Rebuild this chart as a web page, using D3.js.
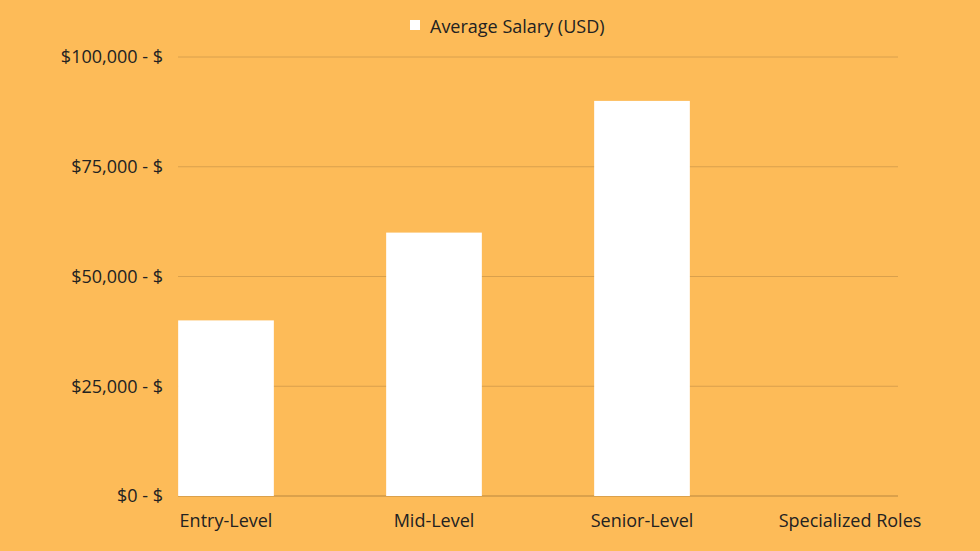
<!DOCTYPE html>
<html>
<head>
<meta charset="utf-8">
<script src="https://cdn.jsdelivr.net/npm/d3@7"></script>
<style>
  body { margin: 0; background: #fdbb58; }
  text { font-family: "Open Sans", sans-serif; }
</style>
</head>
<body>
<div id="chart"></div>
<script>
const WIDTH = 980;
const HEIGHT = 551;

const categories = ["Entry-Level", "Mid-Level", "Senior-Level", "Specialized Roles"];
const salaries = [40000, 60000, 90000, null];
const yTicks = [0, 25000, 50000, 75000, 100000];
const seriesName = "Average Salary (USD)";

let svg = d3.select("#chart")
  .append("svg")
    .attr("width", WIDTH)
    .attr("height", HEIGHT);

svg.append("rect")
  .attr("width", WIDTH)
  .attr("height", HEIGHT)
  .attr("fill", "#fdbb58");

// scales
let x = d3.scaleBand()
  .domain(categories)
  .range([122, 954])
  .paddingInner(0.54)
  .paddingOuter(0.27);

let y = d3.scaleLinear()
  .domain([0, 100000])
  .range([496, 57]);

// grid lines
svg.append("g")
  .selectAll("line")
  .data(yTicks)
  .join("line")
    .attr("x1", 178)
    .attr("x2", 898)
    .attr("y1", d => y(d))
    .attr("y2", d => y(d))
    .attr("stroke", d => d === 0 ? "#b9873f" : "#d9a04c")
    .attr("stroke-width", 1);

// y labels
svg.append("g")
  .selectAll("text")
  .data(yTicks)
  .join("text")
    .attr("x", 163)
    .attr("y", d => y(d))
    .attr("dy", "0.35em")
    .attr("text-anchor", "end")
    .attr("font-size", 18)
    .attr("fill", "#222")
    .text(d => "$" + d3.format(",")(d) + " - $");

// bars
svg.append("g")
  .selectAll("rect")
  .data(categories.map((c, i) => ({c: c, v: salaries[i]})).filter(d => d.v != null))
  .join("rect")
    .attr("x", d => x(d.c))
    .attr("width", x.bandwidth())
    .attr("y", d => y(d.v))
    .attr("height", d => y(0) - y(d.v))
    .attr("fill", "#ffffff");

// x labels
svg.append("g")
  .selectAll("text")
  .data(categories)
  .join("text")
    .attr("x", d => x(d) + x.bandwidth() / 2)
    .attr("y", 527)
    .attr("text-anchor", "middle")
    .attr("font-size", 18)
    .attr("fill", "#222")
    .text(d => d);

// legend
svg.append("rect")
  .attr("x", 410)
  .attr("y", 20)
  .attr("width", 10)
  .attr("height", 10)
  .attr("fill", "#ffffff");
svg.append("text")
  .attr("x", 430)
  .attr("y", 33)
  .attr("font-size", 18)
  .attr("fill", "#222")
  .text(seriesName);
</script>
</body>
</html>
